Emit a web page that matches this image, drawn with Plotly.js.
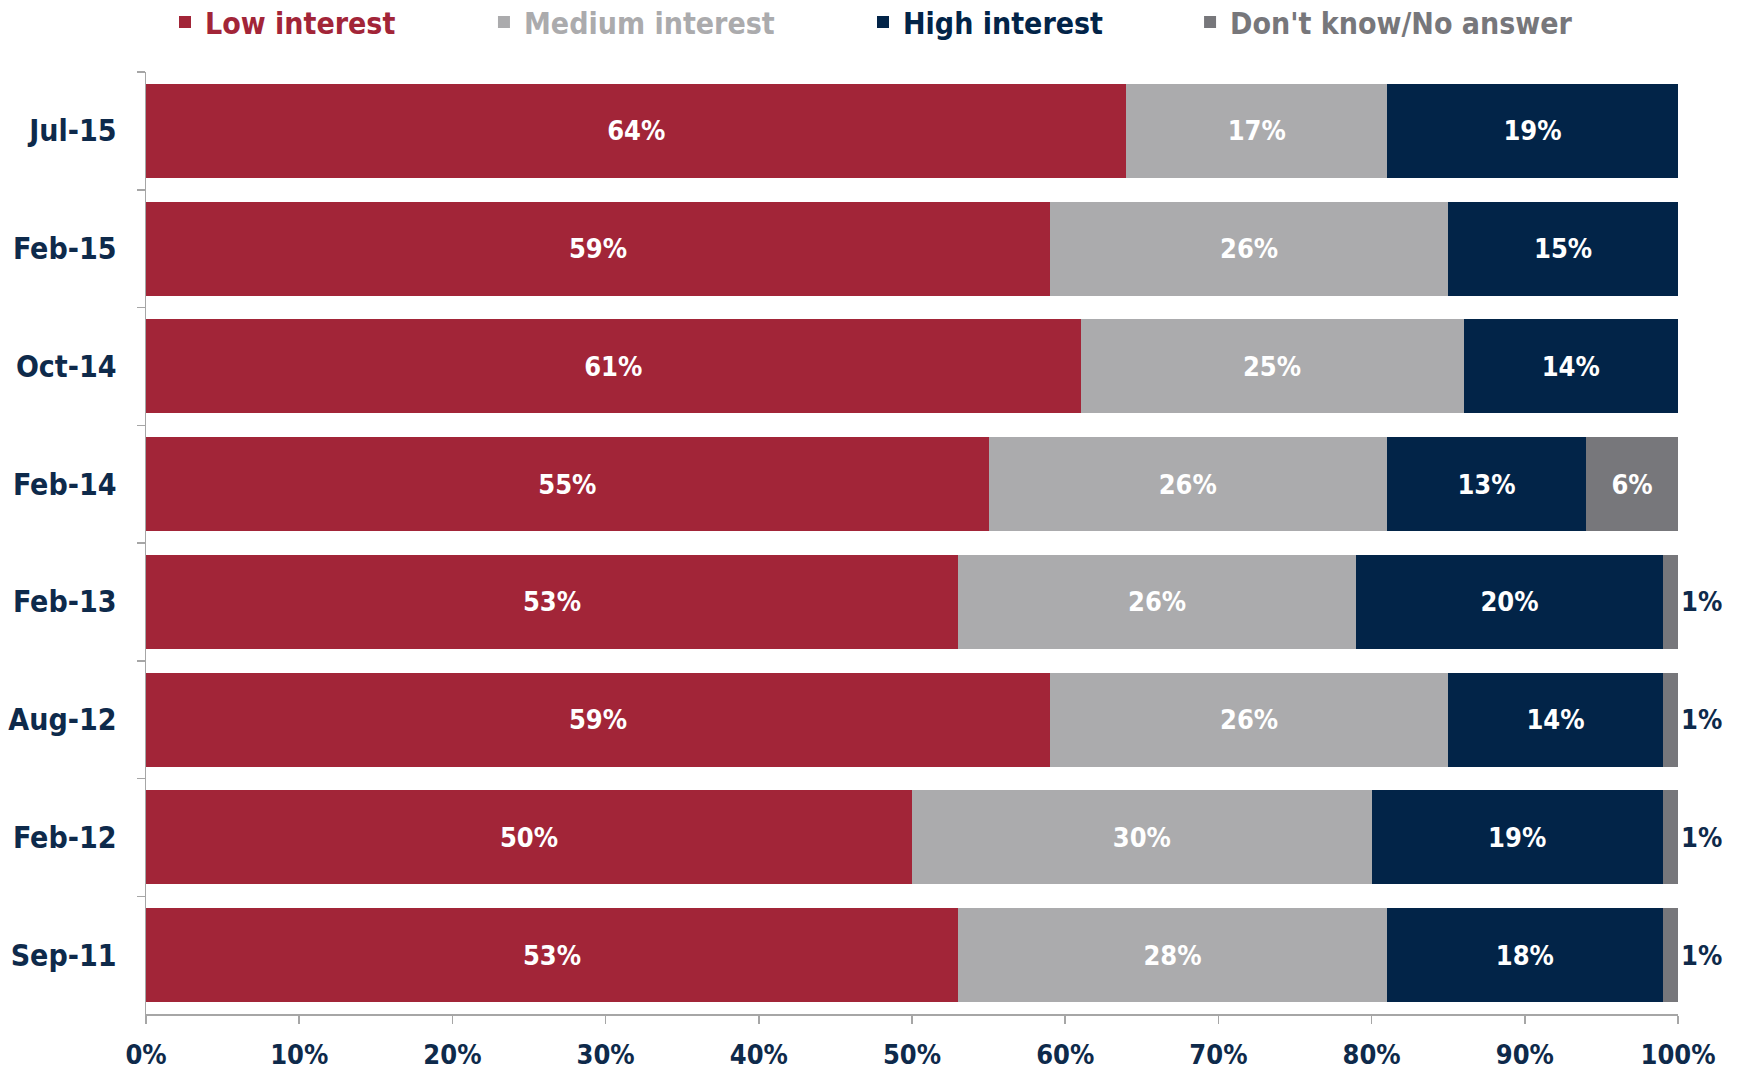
<!DOCTYPE html>
<html>
<head>
<meta charset="utf-8">
<script src="https://cdn.plot.ly/plotly-3.0.1.min.js"></script>
<style>html,body{margin:0;padding:0;background:#fff}#chart{width:1738px;height:1072px}</style>
</head>
<body>
<div id="chart"></div>
<script>
const categories = ['Jul-15','Feb-15','Oct-14','Feb-14','Feb-13','Aug-12','Feb-12','Sep-11'];
const seriesNames = ['Low interest','Medium interest','High interest',"Don't know/No answer"];
const lowInterest = [64,59,61,55,53,59,50,53];
const mediumInterest = [17,26,25,26,26,26,30,28];
const highInterest = [19,15,14,13,20,14,19,18];
const dontKnow = [0,0,0,6,1,1,1,1];
const xTicks = [0,10,20,30,40,50,60,70,80,90,100];

const colors = ['#A22538','#ABABAD','#022448','#77777B'];
const navy = '#0E2A4B';
const FONT = 'DejaVu Sans Condensed, DejaVu Sans, sans-serif';
const values = [lowInterest, mediumInterest, highInterest, dontKnow];
const legendIds = ['legend','legend2','legend3','legend4'];
const legendX = [0.0124, 0.2206, 0.468, 0.6815];

const traces = values.map((vals, i) => {
  const isDK = i === 3;
  return {
    type: 'bar',
    orientation: 'h',
    name: seriesNames[i],
    legend: legendIds[i],
    y: categories,
    x: vals,
    marker: {color: colors[i]},
    text: vals.map(v => v > 0 ? v + '%' : ''),
    textposition: vals.map(v => (isDK && v < 3) ? 'outside' : 'inside'),
    insidetextanchor: 'middle',
    textangle: 0,
    insidetextfont: {color: '#FFFFFF', size: 27, family: FONT, weight: 'bold'},
    outsidetextfont: {color: navy, size: 27, family: FONT, weight: 'bold'},
    cliponaxis: false,
    constraintext: 'none',
    hoverinfo: 'skip'
  };
});

const layout = {
  width: 1738, height: 1072,
  margin: {l: 146, r: 60, t: 72, b: 58, autoexpand: false},
  barmode: 'stack',
  bargap: 0.2,
  paper_bgcolor: '#FFFFFF',
  plot_bgcolor: '#FFFFFF',
  showlegend: true,
  xaxis: {
    range: [0, 100],
    tickvals: xTicks,
    ticktext: xTicks.map(v => v + '%'),
    showgrid: false, zeroline: false,
    showline: true, linecolor: '#A6A6A6', linewidth: 1.5,
    ticks: 'outside', ticklen: 8, tickcolor: '#A6A6A6', tickwidth: 1.5,
    tickfont: {family: FONT, size: 27, color: navy, weight: 'bold'},
    ticklabelstandoff: 8,
    fixedrange: true
  },
  yaxis: {
    type: 'category',
    categoryorder: 'array', categoryarray: categories,
    autorange: 'reversed',
    showgrid: false, zeroline: false,
    showline: true, linecolor: '#A6A6A6', linewidth: 1.5,
    ticks: 'outside', ticklen: 8, tickcolor: '#A6A6A6', tickwidth: 1.5,
    tickson: 'boundaries',
    tickfont: {family: FONT, size: 30, color: navy, weight: 'bold'},
    ticklabelstandoff: 22,
    fixedrange: true
  }
};

legendIds.forEach((id, i) => {
  layout[id] = {
    orientation: 'h',
    x: legendX[i], xanchor: 'left',
    y: 1 - 22 / 1072, yref: 'container', yanchor: 'middle',
    font: {family: FONT, size: 30, color: colors[i], weight: 'bold'},
    itemwidth: 30,
    bgcolor: 'rgba(0,0,0,0)'
  };
});

Plotly.newPlot('chart', traces, layout, {displayModeBar: false, staticPlot: true});
</script>
</body>
</html>
